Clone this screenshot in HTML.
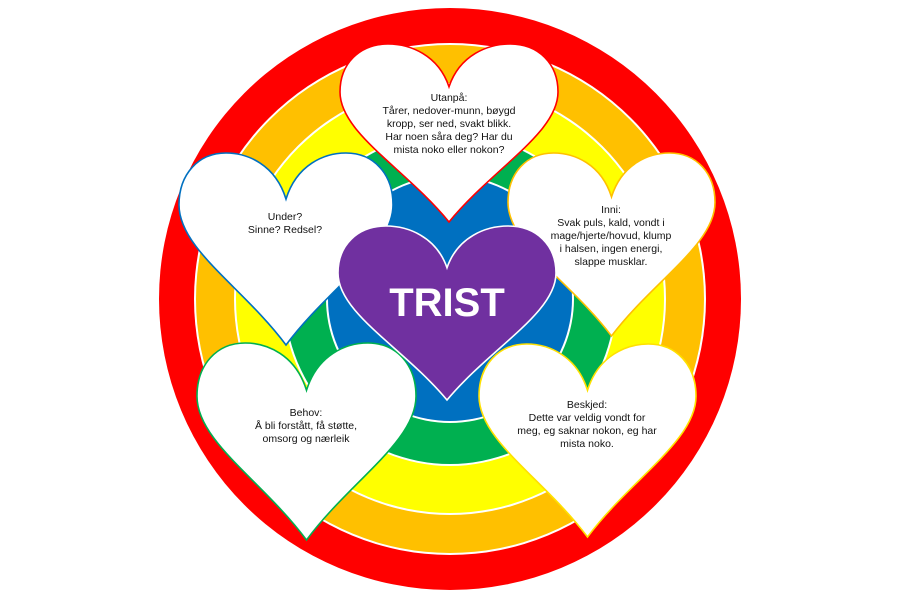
<!DOCTYPE html>
<html><head><meta charset="utf-8"><style>
html,body{margin:0;padding:0;background:#fff;}
svg{display:block}
text{font-family:"Liberation Sans",sans-serif;font-size:10.5px;fill:#111;text-anchor:middle}
</style></head><body>
<svg width="900" height="600" viewBox="0 0 900 600" xmlns="http://www.w3.org/2000/svg">
<defs>
<path id="h" vector-effect="non-scaling-stroke" d="M50 24 C45 6,32 0,22 0 C9 0,0 11,0 27 C0 50,30 70,50 100 C70 70,100 50,100 27 C100 11,91 0,78 0 C68 0,55 6,50 24 Z"/>
</defs>
<circle cx="450" cy="299" r="291" fill="#FF0000"/>
<circle cx="450" cy="299" r="256" fill="#fff"/>
<circle cx="450" cy="299" r="254" fill="#FFC000"/>
<circle cx="450" cy="299" r="216" fill="#fff"/>
<circle cx="450" cy="299" r="214" fill="#FFFF00"/>
<circle cx="450" cy="299" r="167" fill="#fff"/>
<circle cx="450" cy="299" r="165" fill="#00B050"/>
<circle cx="450" cy="299" r="124" fill="#fff"/>
<circle cx="450" cy="299" r="122" fill="#0070C0"/>

<g fill="#fff" stroke-width="1.6">
<use href="#h" transform="translate(340,44) scale(2.18,1.78)" stroke="#FF0000"/>
<use href="#h" transform="translate(179,153) scale(2.14,1.92)" stroke="#0070C0"/>
<use href="#h" transform="translate(508,153) scale(2.07,1.83)" stroke="#FFC000"/>
<use href="#h" transform="translate(197,343) scale(2.19,1.97)" stroke="#00B050"/>
<use href="#h" transform="translate(479,344) scale(2.17,1.93)" stroke="#FFE000"/>
<use href="#h" transform="translate(338,226) scale(2.18,1.74)" fill="#7030A0" stroke="#fff"/>
</g>

<text x="449" y="101">Utanpå:</text>
<text x="449" y="114">Tårer, nedover-munn, bøygd</text>
<text x="449" y="127">kropp, ser ned, svakt blikk.</text>
<text x="449" y="140">Har noen såra deg? Har du</text>
<text x="449" y="153">mista noko eller nokon?</text>

<text x="285" y="220">Under?</text>
<text x="285" y="233">Sinne? Redsel?</text>

<text x="611" y="213">Inni:</text>
<text x="611" y="226">Svak puls, kald, vondt i</text>
<text x="611" y="239">mage/hjerte/hovud, klump</text>
<text x="611" y="252">i halsen, ingen energi,</text>
<text x="611" y="265">slappe musklar.</text>

<text x="306" y="416">Behov:</text>
<text x="306" y="429">Å bli forstått, få støtte,</text>
<text x="306" y="442">omsorg og nærleik</text>

<text x="587" y="408">Beskjed:</text>
<text x="587" y="421">Dette var veldig vondt for</text>
<text x="587" y="434">meg, eg saknar nokon, eg har</text>
<text x="587" y="447">mista noko.</text>

<text x="447" y="316" style="font-size:40px;font-weight:bold;fill:#fff">TRIST</text>
</svg>
</body></html>
